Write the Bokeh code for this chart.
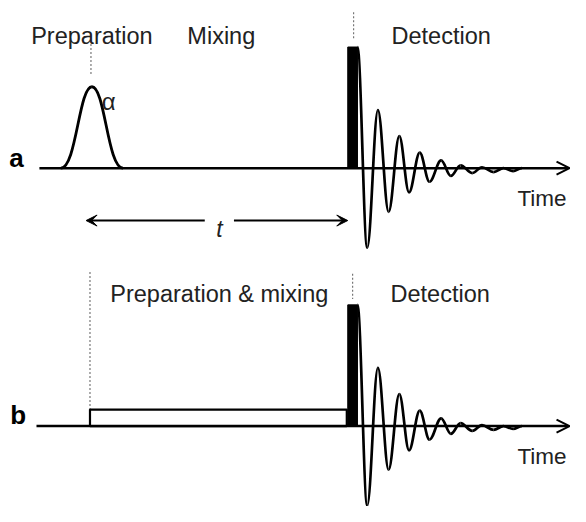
from bokeh.plotting import figure
from bokeh.models import Range1d, Arrow, OpenHead, VeeHead
from bokeh.layouts import column
from bokeh.embed import file_html
from bokeh.resources import INLINE
from bokeh.core.properties import value

# ---------------- data (time in arbitrary units, amplitude above baseline) ----------
panel_labels = ["a", "b"]
axis_start = [40, 37]          # start of time axis for panels a, b
axis_end = 586
axis_label = "Time"

# selective (Gaussian) pulse in panel a
gauss_center = 94
gauss_halfwidth = 32
gauss_height = 84
gauss_label = "α"

# hard detection pulse (both panels)
hard_pulse_start = 357
hard_pulse_end = 367
hard_pulse_height = 125

# long low-power irradiation in panel b
box_start = 92
box_end = 356
box_height = 17

# FID extrema (time, amplitude)
fid_t = [367, 377, 388, 399, 410, 420, 431, 441, 453, 463, 473, 485, 495, 507, 517, 527, 536]
fid_a = [125, -82, 60, -45, 33, -25, 16, -14, 8, -8, 3, -5, 1, -4, 0, -3, 0]

# period headings
heads_a = ["Preparation", "Mixing", "Detection"]
heads_a_x = [94, 227, 453]
heads_b = ["Preparation & mixing", "Detection"]
heads_b_x = [225, 452]
head_level = 136

# delay arrow in panel a
delay_label = "t"
delay_left = 88
delay_right = 357
delay_gap = [210, 240]
delay_level = -54

# guide lines (x, y from, y to)
guides_a_x = [93, 363]
guides_a_y0 = [128, 161]
guides_a_y1 = [95, 133]
guides_b_x = [92, 362]
guides_b_y0 = [159, 157]
guides_b_y1 = [17, 131]

FONT = value("Liberation Sans")
TXT = "#222222"
K = 0.36  # bezier handle fraction for smooth extrema-to-extrema arcs


def make_panel(height, y_start, y_end):
    p = figure(width=570, height=height, output_backend="svg", toolbar_location=None,
               x_range=Range1d(0, 586), y_range=Range1d(y_start, y_end),
               min_border=0, outline_line_color=None, background_fill_color="white",
               border_fill_color="white")
    p.xaxis.visible = False
    p.yaxis.visible = False
    p.grid.visible = False
    return p


def draw_fid(p):
    x0 = fid_t[:-1]
    x1 = fid_t[1:]
    y0 = fid_a[:-1]
    y1 = fid_a[1:]
    cx0 = [a + K * (b - a) for a, b in zip(x0, x1)]
    cx1 = [b - K * (b - a) for a, b in zip(x0, x1)]
    p.bezier(x0=x0, y0=y0, x1=x1, y1=y1, cx0=cx0, cy0=y0, cx1=cx1, cy1=y1,
             line_color="black", line_width=2.7)


def draw_axis(p, start):
    p.add_layout(Arrow(end=OpenHead(size=13, line_width=2, line_color="black"),
                       x_start=start, y_start=0, x_end=axis_end - 1, y_end=0,
                       line_color="black", line_width=2.6))
    p.text(x=[axis_end - 4], y=[-31], text=[axis_label], text_font=FONT,
           text_font_size="22.5px", text_align="right", text_baseline="alphabetic",
           text_color=TXT)


def draw_hard_pulse(p):
    p.quad(left=[hard_pulse_start], right=[hard_pulse_end], bottom=[0],
           top=[hard_pulse_height], fill_color="black", line_color="black", line_width=1)


# ---------------- panel a ----------------
pa = make_panel(264, -99.35, 173)
pa.segment(x0=guides_a_x, y0=guides_a_y0, x1=guides_a_x, y1=guides_a_y1,
           line_color="#777777", line_width=1.2, line_dash="2 2")
draw_axis(pa, axis_start[0])
gx0 = [gauss_center - gauss_halfwidth, gauss_center + gauss_halfwidth]
pa.bezier(x0=gx0, y0=[0, 0], x1=[gauss_center, gauss_center],
          y1=[gauss_height, gauss_height],
          cx0=[gauss_center - 0.5 * gauss_halfwidth, gauss_center + 0.5 * gauss_halfwidth],
          cy0=[0, 0],
          cx1=[gauss_center - 0.42 * gauss_halfwidth, gauss_center + 0.42 * gauss_halfwidth],
          cy1=[gauss_height, gauss_height],
          line_color="black", line_width=2.8)
pa.text(x=[gauss_center + 10], y=[gauss_height - 15], text=[gauss_label], text_font=FONT,
        text_font_size="24px", text_align="left", text_baseline="alphabetic", text_color=TXT)
draw_hard_pulse(pa)
draw_fid(pa)
pa.text(x=heads_a_x, y=[head_level] * len(heads_a), text=heads_a, text_font=FONT,
        text_font_size="23.5px", text_align="center", text_baseline="alphabetic", text_color=TXT)
pa.text(x=[9], y=[11], text=[panel_labels[0]], text_font=FONT, text_font_size="26px",
        text_font_style="bold", text_align="left", text_baseline="alphabetic", text_color="black")
pa.add_layout(Arrow(end=VeeHead(size=11, fill_color="black", line_color="black"),
                    x_start=delay_gap[0], y_start=delay_level, x_end=delay_left, y_end=delay_level,
                    line_color="black", line_width=2))
pa.add_layout(Arrow(end=VeeHead(size=11, fill_color="black", line_color="black"),
                    x_start=delay_gap[1], y_start=delay_level, x_end=delay_right, y_end=delay_level,
                    line_color="black", line_width=2))
pa.text(x=[(delay_gap[0] + delay_gap[1]) / 2], y=[delay_level - 9], text=[delay_label],
        text_font=FONT, text_font_size="23px", text_font_style="italic",
        text_align="center", text_baseline="alphabetic", text_color=TXT)

# ---------------- panel b ----------------
pb = make_panel(242, -83, 166.65)
pb.segment(x0=guides_b_x, y0=guides_b_y0, x1=guides_b_x, y1=guides_b_y1,
           line_color="#777777", line_width=1.2, line_dash="2 2")
draw_axis(pb, axis_start[1])
pb.quad(left=[box_start], right=[box_end], bottom=[0], top=[box_height],
        fill_color="white", line_color="black", line_width=2.2)
draw_hard_pulse(pb)
draw_fid(pb)
pb.text(x=heads_b_x, y=[head_level] * len(heads_b), text=heads_b, text_font=FONT,
        text_font_size="23.5px", text_align="center", text_baseline="alphabetic", text_color=TXT)
pb.text(x=[10], y=[11], text=[panel_labels[1]], text_font=FONT, text_font_size="26px",
        text_font_style="bold", text_align="left", text_baseline="alphabetic", text_color="black")

layout = column(pa, pb, spacing=0)
open("out.html", "w").write(file_html(layout, INLINE))
